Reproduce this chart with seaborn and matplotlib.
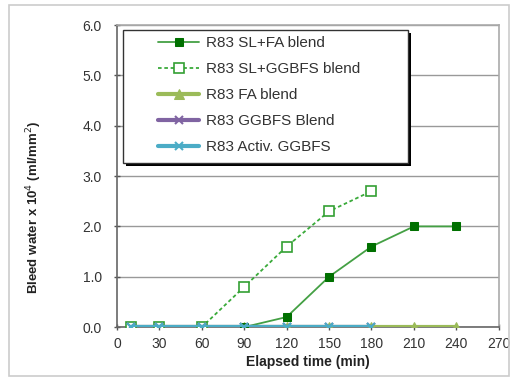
import pandas as pd
import seaborn as sns
import matplotlib.pyplot as plt
from matplotlib.patches import Rectangle

# elapsed time (min) and bleed water values
t_long = [10, 30, 60, 90, 120, 150, 180, 210, 240]
t_short = [10, 30, 60, 90, 120, 150, 180]

sl_fa = [0, 0, 0, 0, 0.2, 1.0, 1.6, 2.0, 2.0]
sl_ggbfs = [0, 0, 0, 0.8, 1.6, 2.3, 2.7]
fa_blend = [0, 0, 0, 0, 0, 0, 0, 0, 0]
ggbfs_blend = [0, 0, 0, 0, 0, 0, 0]
activ_ggbfs = [0, 0, 0, 0, 0, 0, 0]

labels = ['R83 SL+FA blend', 'R83 SL+GGBFS blend', 'R83 FA blend',
          'R83 GGBFS Blend', 'R83 Activ. GGBFS']

sns.set_style("white")
plt.rcParams['font.family'] = ['Liberation Sans', 'DejaVu Sans']

fig = plt.figure(figsize=(5.11, 3.79), dpi=100)
ax = fig.add_axes([0.229, 0.137, 0.747, 0.797])

# outer chart border
fig.patches.append(Rectangle((0.0176, 0.008), 0.978, 0.979, transform=fig.transFigure,
                             fill=False, edgecolor='#cccccc', lw=1.2))

sns.lineplot(x=t_long, y=sl_fa, ax=ax, color='#44a044', lw=1.3, marker='s', markersize=6,
             markerfacecolor='#007000', markeredgecolor='#007000', label=labels[0], zorder=5)
sns.lineplot(x=t_short, y=sl_ggbfs, ax=ax, color='#3aaa3a', lw=1.3, linestyle=(0, (2, 1.5)),
             marker='s', markersize=6.5, markerfacecolor='white', markeredgecolor='#33a033',
             markeredgewidth=1.2, label=labels[1], zorder=5)
sns.lineplot(x=t_long, y=fa_blend, ax=ax, color='#9bbb59', lw=3, marker='^', markersize=7,
             markeredgecolor='#9bbb59', label=labels[2], zorder=3)
sns.lineplot(x=t_short, y=ggbfs_blend, ax=ax, color='#8064a2', lw=3, marker='x', markersize=6,
             markeredgewidth=1.5, markeredgecolor='#8064a2', label=labels[3], zorder=6)
sns.lineplot(x=t_short, y=activ_ggbfs, ax=ax, color='#4bacc6', lw=3, marker='x', markersize=6,
             markeredgewidth=1.5, markeredgecolor='#4bacc6', label=labels[4], zorder=6)

ax.set_xlim(0, 270)
ax.set_ylim(0, 6)
ax.set_xticks(range(0, 271, 30))
ax.set_yticks([0, 1, 2, 3, 4, 5, 6])
ax.set_yticklabels([f'{v:.1f}' for v in range(7)])
ax.tick_params(labelsize=10, length=4, width=1, color='#555555', direction='inout',
               left=True, bottom=True, labelcolor='#333333')
ax.tick_params(axis='y', pad=9)
ax.tick_params(axis='x', pad=5)
ax.yaxis.grid(True, color='#999999', lw=1)
ax.set_axisbelow(True)
for s in ['top', 'right']:
    ax.spines[s].set_color('#aaaaaa')
    ax.spines[s].set_linewidth(1.2)
for s in ['left', 'bottom']:
    ax.spines[s].set_color('#666666')
    ax.spines[s].set_linewidth(1.2)

ax.set_xlabel('Elapsed time (min)', fontsize=10, fontweight='bold', labelpad=3, color='#222222')
ax.set_ylabel('Bleed water x 10$^4$ (ml/mm$^2$)', fontsize=9.5, fontweight='bold',
              color='#222222')
ax.yaxis.set_label_coords(-0.19, 0.397)

# legend box with a black drop shadow
ax.add_patch(Rectangle((0.024, 0.533), 0.746, 0.44, transform=ax.transAxes,
                       facecolor='black', edgecolor='black', lw=0, zorder=9))
ax.add_patch(Rectangle((0.0157, 0.543), 0.746, 0.44, transform=ax.transAxes,
                       facecolor='white', edgecolor='#333333', lw=1, zorder=9))
leg = ax.legend(loc='upper left', bbox_to_anchor=(0.108, 0.962), fontsize=11, frameon=False,
                borderpad=0, labelspacing=0.78, handlelength=2.7, handletextpad=0.45,
                borderaxespad=0)
leg.set_zorder(10)
for txt in leg.get_texts():
    txt.set_color('#333333')

plt.savefig('out.png', dpi=100)
